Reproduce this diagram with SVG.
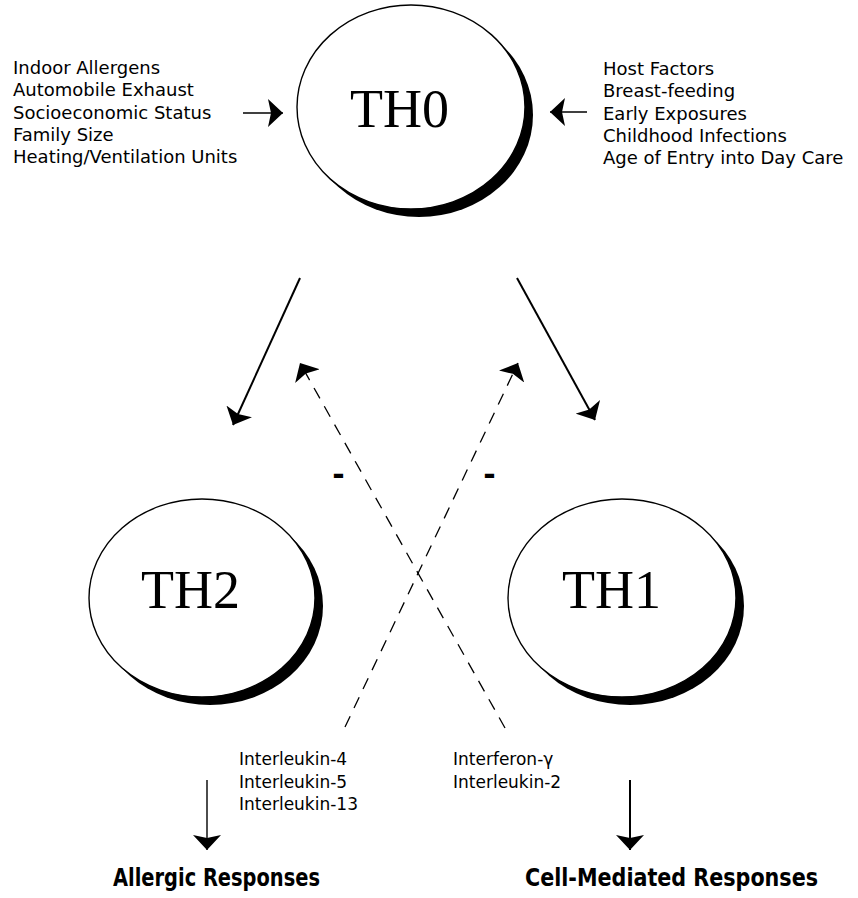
<svg xmlns="http://www.w3.org/2000/svg" width="858" height="898" viewBox="0 0 858 898">
  <defs>
    <style>
      .shadow { fill: #000; }
      .body { fill: #fff; stroke: #000; stroke-width: 1.4; }
      .cell { font-family: "Liberation Serif", "Times New Roman", serif; font-size: 54px; fill: #000; }
      .factor { font-family: "DejaVu Sans", "Liberation Sans", sans-serif; font-size: 18px; fill: #000; }
      .cyto { font-family: "DejaVu Sans", "Liberation Sans", sans-serif; font-size: 17px; fill: #000; }
      .outcome { font-family: "DejaVu Sans Condensed", "Liberation Sans Narrow", "DejaVu Sans", sans-serif; font-weight: bold; font-size: 25px; fill: #000; }
      .minus { font-family: "DejaVu Sans", sans-serif; font-weight: bold; font-size: 30px; fill: #000; }
      .solid { fill: none; stroke: #000; stroke-width: 2; }
      .thin { fill: none; stroke: #000; stroke-width: 1.4; }
      .dashed { fill: none; stroke: #000; stroke-width: 1.3; stroke-dasharray: 12 9; }
    </style>
    <marker id="head" viewBox="0 0 15 28" refX="15" refY="14" markerWidth="15" markerHeight="28" markerUnits="userSpaceOnUse" orient="auto">
      <path d="M0,0 L15,14 L0,28 L3,14 Z" fill="#000"/>
    </marker>
  </defs>

  <!-- environmental influences -->
  <g id="factors-left" class="factor">
    <text x="13" y="74">Indoor Allergens</text>
    <text x="13" y="96">Automobile Exhaust</text>
    <text x="13" y="118.5">Socioeconomic Status</text>
    <text x="13" y="141">Family Size</text>
    <text x="13" y="163">Heating/Ventilation Units</text>
  </g>

  <!-- host influences -->
  <g id="factors-right" class="factor">
    <text x="603" y="75">Host Factors</text>
    <text x="603" y="97">Breast-feeding</text>
    <text x="603" y="119.5">Early Exposures</text>
    <text x="603" y="142">Childhood Infections</text>
    <text x="603" y="164">Age of Entry into Day Care</text>
  </g>

  <!-- cells -->
  <g id="th0">
    <ellipse class="shadow" cx="419" cy="115" rx="114" ry="102"/>
    <ellipse class="body" cx="411" cy="107" rx="114" ry="102"/>
    <text class="cell" x="350" y="127">TH0</text>
  </g>

  <g id="th2">
    <ellipse class="shadow" cx="210" cy="606" rx="113" ry="99"/>
    <ellipse class="body" cx="202" cy="598" rx="113" ry="99"/>
    <text class="cell" x="141" y="608">TH2</text>
  </g>

  <g id="th1">
    <ellipse class="shadow" cx="630" cy="606" rx="114" ry="99"/>
    <ellipse class="body" cx="622" cy="598" rx="114" ry="99"/>
    <text class="cell" x="562" y="608">TH1</text>
  </g>

  <!-- connectors -->
  <g id="connectors">
    <line class="thin" x1="243" y1="113" x2="283" y2="113" marker-end="url(#head)"/>
    <line class="thin" x1="587" y1="112" x2="550" y2="112" marker-end="url(#head)"/>
    <line class="solid" x1="300" y1="278" x2="233" y2="425" marker-end="url(#head)"/>
    <line class="solid" x1="517" y1="278" x2="595" y2="420" marker-end="url(#head)"/>
    <line class="dashed" x1="505" y1="728" x2="300" y2="363" marker-end="url(#head)"/>
    <line class="dashed" x1="345" y1="727" x2="518" y2="363" marker-end="url(#head)"/>
    <line class="thin" x1="207" y1="780" x2="207" y2="850" marker-end="url(#head)"/>
    <line class="solid" x1="630" y1="780" x2="630" y2="850" marker-end="url(#head)"/>
  </g>

  <!-- inhibition marks -->
  <g id="inhibition">
    <text class="minus" x="338.5" y="485" text-anchor="middle">-</text>
    <text class="minus" x="489.5" y="485" text-anchor="middle">-</text>
  </g>

  <!-- cytokines -->
  <g id="cytokines-th2" class="cyto">
    <text x="239" y="765">Interleukin-4</text>
    <text x="239" y="787.5">Interleukin-5</text>
    <text x="239" y="810">Interleukin-13</text>
  </g>
  <g id="cytokines-th1" class="cyto">
    <text x="453" y="765">Interferon-γ</text>
    <text x="453" y="787.5">Interleukin-2</text>
  </g>

  <!-- outcomes -->
  <g id="outcomes" class="outcome">
    <text x="113" y="886" textLength="207" lengthAdjust="spacingAndGlyphs">Allergic Responses</text>
    <text x="525" y="886" textLength="293" lengthAdjust="spacingAndGlyphs">Cell-Mediated Responses</text>
  </g>
</svg>
